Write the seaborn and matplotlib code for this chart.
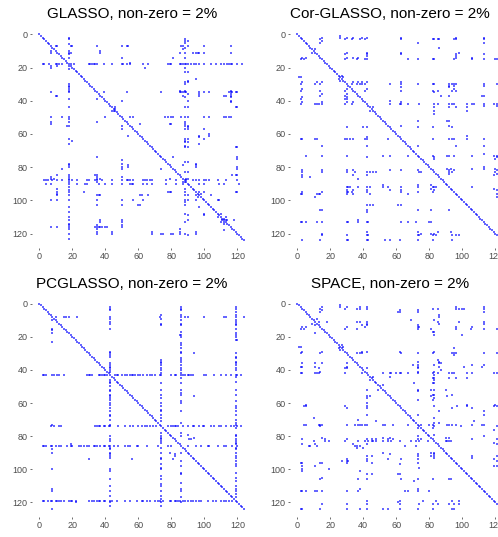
import matplotlib
matplotlib.use("Agg")
import matplotlib.pyplot as plt
import pandas as pd
import seaborn as sns

n_vars = 125
ticks = [0, 20, 40, 60, 80, 100, 120]
titles = ["GLASSO, non-zero = 2%", "Cor-GLASSO, non-zero = 2%",
          "PCGLASSO, non-zero = 2%", "SPACE, non-zero = 2%"]

# non-zero off-diagonal entries: row -> columns (made symmetric below)
glasso_adj = {
    2: [18], 3: [18, 88], 4: [88, 90], 5: [88], 6: [18],
    7: [10, 11, 19, 20, 35, 50, 53, 54, 86, 87, 90, 100, 116],
    8: [88], 9: [87], 10: [18, 37],
    11: [18, 19, 37, 85, 88, 93, 95, 96, 97, 100, 116],
    12: [18], 14: [18, 50, 81, 88], 17: [55],
    18: [19, 21, 30, 31, 32, 33, 34, 35, 39, 44, 50, 51, 53, 55, 63, 66, 78, 79, 80, 85,
         86, 87, 88, 89, 90, 92, 94, 95, 97, 100, 104, 107, 110, 112, 114, 115, 116, 117,
         120, 123],
    20: [64, 88], 23: [88, 90], 27: [95], 28: [90], 29: [88, 90], 30: [88],
    34: [85, 88, 116],
    35: [39, 53, 74, 85, 86, 87, 88, 89, 97, 100, 103, 115, 116, 117, 119, 120],
    36: [90, 97, 116], 37: [87, 97, 112, 113, 116], 38: [88, 116], 40: [50, 90, 116],
    41: [116], 44: [46, 88, 90, 119, 120], 45: [46],
    50: [55, 57, 76, 78, 80, 81, 86, 88, 90, 100, 103, 112, 113, 115, 116],
    53: [88], 54: [61, 79, 80, 88], 55: [88, 90], 56: [90], 57: [88, 90, 100],
    60: [103], 61: [97, 103], 62: [97], 63: [88, 90, 100], 64: [88], 65: [88, 90],
    66: [97], 67: [88], 68: [88, 90, 119, 120], 74: [81, 120], 75: [120], 77: [88, 90],
    78: [95], 79: [87, 95], 80: [95, 120], 81: [120], 83: [88, 90], 85: [117, 119, 120],
    87: [89, 90], 88: [89, 93, 95, 97, 100, 101, 103, 108, 113, 120],
    90: [97, 100, 109, 112, 121], 95: [97, 100, 119, 120], 96: [98], 97: [104],
    100: [108, 109], 108: [110], 110: [113], 111: [112], 112: [113, 114, 118],
}

corglasso_adj = {
    1: [26], 2: [15, 26, 30, 34, 39, 42, 63, 96, 113],
    3: [14, 29, 33, 38, 41, 63, 82, 83, 85, 86, 95, 96, 113, 124],
    4: [15], 5: [14, 73, 113], 8: [86], 9: [11], 11: [30, 42, 63, 98],
    12: [29, 42, 63, 96, 113], 13: [42, 96], 14: [30, 34, 37, 96, 106, 124],
    15: [29, 36, 41, 42, 67, 73, 82, 83, 95, 106, 113, 120, 121],
    25: [27], 26: [28], 29: [34, 37, 39, 42, 63],
    30: [33, 36, 38, 39, 41, 56, 63, 73, 82, 83, 92, 94, 95, 96, 113, 121, 124],
    31: [92, 95, 113, 124], 32: [63, 92], 33: [42, 95], 34: [41, 63, 82, 85, 94, 96],
    35: [83], 37: [87, 92, 112, 113], 40: [56], 41: [63],
    42: [56, 62, 63, 67, 74, 83, 85, 92, 94, 95, 103, 106, 107, 113, 119, 121, 124],
    43: [113, 121, 124], 44: [46, 83, 92, 96, 103], 46: [83, 103], 48: [83],
    52: [73, 91, 92], 53: [124], 55: [63, 92], 56: [73, 82, 94, 124], 61: [103],
    62: [124], 63: [82, 92, 94, 95, 103, 113], 67: [73, 96, 113], 72: [113],
    73: [82, 91, 92, 95, 106, 119, 121, 124], 74: [83, 121], 75: [83, 120], 80: [113],
    81: [91, 93, 106, 113, 120], 82: [92, 95, 121, 124], 83: [92, 94, 120],
    84: [92, 121], 85: [119], 92: [106], 93: [119], 94: [121, 124], 96: [121], 98: [121],
}

pcglasso_adj = {
    8: [10, 15, 16, 18, 23, 43, 73, 86, 88, 90, 100, 112, 113, 119, 124],
    43: [2, 3, 4, 9, 11, 12, 15, 29, 30, 31, 32, 36, 37, 38, 39, 40, 41, 46, 47, 48, 50,
         52, 53, 55, 56, 57, 58, 60, 61, 63, 65, 67, 68, 70, 73, 74, 80, 82, 83, 86, 87, 88,
         90, 91, 92, 93, 100, 101, 106, 110, 113, 116, 119, 120, 122],
    74: [7, 9, 12, 13, 34, 35, 36, 37, 39, 40, 42, 48, 52, 55, 57, 60, 62, 64, 65, 67, 69,
         71, 78, 80, 81, 82, 83, 84, 87, 90, 93, 94, 97, 99, 100, 104, 106, 109, 110, 113,
         116, 118, 120, 122],
    86: [2, 3, 4, 7, 10, 12, 13, 17, 19, 20, 24, 25, 27, 29, 30, 33, 34, 35, 37, 39, 40,
         42, 45, 48, 52, 54, 55, 59, 60, 65, 72, 78, 80, 90, 95, 98, 102, 103, 108, 112,
         113, 117, 120],
    119: [2, 3, 5, 7, 10, 11, 12, 13, 15, 18, 19, 20, 22, 30, 32, 33, 35, 36, 37, 39, 40,
          44, 47, 52, 55, 59, 62, 63, 65, 67, 70, 72, 73, 75, 79, 80, 82, 83, 84, 85, 87,
          88, 90, 92, 93, 95, 97, 98, 102, 105, 107, 110, 112, 113, 115, 117],
    19: [85], 22: [120], 30: [94], 56: [94], 79: [90], 82: [91, 92], 81: [94],
}

space_adj = {
    1: [26], 2: [15, 26, 30, 38, 42, 96, 113, 124],
    3: [14, 29, 36, 38, 42, 82, 85, 96, 98, 100, 101, 113, 124],
    4: [15, 62, 73], 5: [14, 61, 62, 73, 113], 7: [86], 8: [86], 9: [12], 10: [69, 83],
    11: [13, 18, 36, 38, 42, 85, 98, 113], 12: [42, 86, 113], 13: [39, 42, 73],
    14: [30, 41, 73, 74, 96, 106, 124], 15: [29, 36, 73, 81, 96, 105, 113, 121],
    17: [82, 83], 19: [83, 100], 25: [27], 26: [28], 27: [95], 29: [39, 42, 62, 83],
    30: [36, 38, 39, 63, 73, 82, 94, 95, 96, 113, 121, 124], 31: [95], 34: [85],
    35: [73, 86], 36: [86, 87], 37: [70, 73, 83, 106, 113], 38: [73, 86, 101, 112, 124],
    39: [42, 73], 40: [87], 41: [73, 83],
    42: [52, 56, 57, 60, 62, 63, 67, 73, 82, 85, 92, 94, 95, 103, 106, 119, 121, 124],
    43: [83], 44: [46, 56], 45: [82, 83, 92, 96, 103], 46: [83], 48: [71, 82, 83],
    49: [52], 52: [73, 81, 83, 90, 124], 53: [73], 55: [82, 83, 94, 124], 56: [81, 91],
    57: [83], 58: [73, 82], 61: [103, 120], 62: [83, 97, 103, 119, 121, 124],
    63: [94, 106], 65: [86, 113], 67: [73, 113], 69: [83], 71: [107], 72: [83, 86],
    73: [75, 80, 82, 91, 92, 94, 96, 106, 112, 113, 124], 74: [83, 99, 121], 75: [82],
    76: [119], 79: [83], 80: [113], 81: [90, 92], 82: [106, 121, 124],
    83: [90, 91, 92, 93], 84: [119], 85: [121], 92: [106, 121], 93: [106],
    94: [119, 124], 95: [121, 124], 98: [119, 121],
}


def pattern_frame(adj):
    cells = {(k, k) for k in range(n_vars)}
    for i, cols in adj.items():
        for j in cols:
            cells.add((i, j))
            cells.add((j, i))
    return pd.DataFrame(sorted(cells), columns=["row", "col"])


sns.set_theme(style="white")
plt.rcParams["font.family"] = ["Liberation Sans", "DejaVu Sans"]

W, H = 498, 537
fig = plt.figure(figsize=(W / 100, H / 100), dpi=100)

# panel boxes in pixels: left, top, width, height
boxes = [(31.5, 26.5, 220.2, 221.5), (289.5, 26.5, 220.2, 221.5),
         (31.5, 295.9, 220.2, 220.9), (289.5, 295.9, 220.2, 220.9)]
title_pos = [(131.7, 14), (389.7, 14), (132, 283.5), (390, 283.5)]
adjs = [glasso_adj, corglasso_adj, pcglasso_adj, space_adj]

for (l, t, w, h), adj, title, (tx, ty) in zip(boxes, adjs, titles, title_pos):
    ax = fig.add_axes([l / W, 1 - (t + h) / H, w / W, h / H])
    df = pattern_frame(adj)
    sns.scatterplot(data=df, x="col", y="row", ax=ax, marker="s", s=1.0,
                    color="#0000ff", alpha=0.6, linewidth=0, legend=False)
    ax.set_xlim(-4.7, 128.7)
    ax.set_ylim(128.7, -4.7)
    ax.set_xticks(ticks)
    ax.set_yticks(ticks)
    ax.set_xlabel("")
    ax.set_ylabel("")
    for s in ax.spines.values():
        s.set_visible(False)
    ax.tick_params(length=1.5, width=0.5, color="#333333", labelsize=6.5,
                   labelcolor="#4D4D4D", pad=1.5, bottom=True, left=True)
    ax.grid(False)
    fig.text(tx / W, 1 - ty / H, title, ha="center", va="center", fontsize=11,
             color="black")

fig.savefig("out.png", dpi=100)
